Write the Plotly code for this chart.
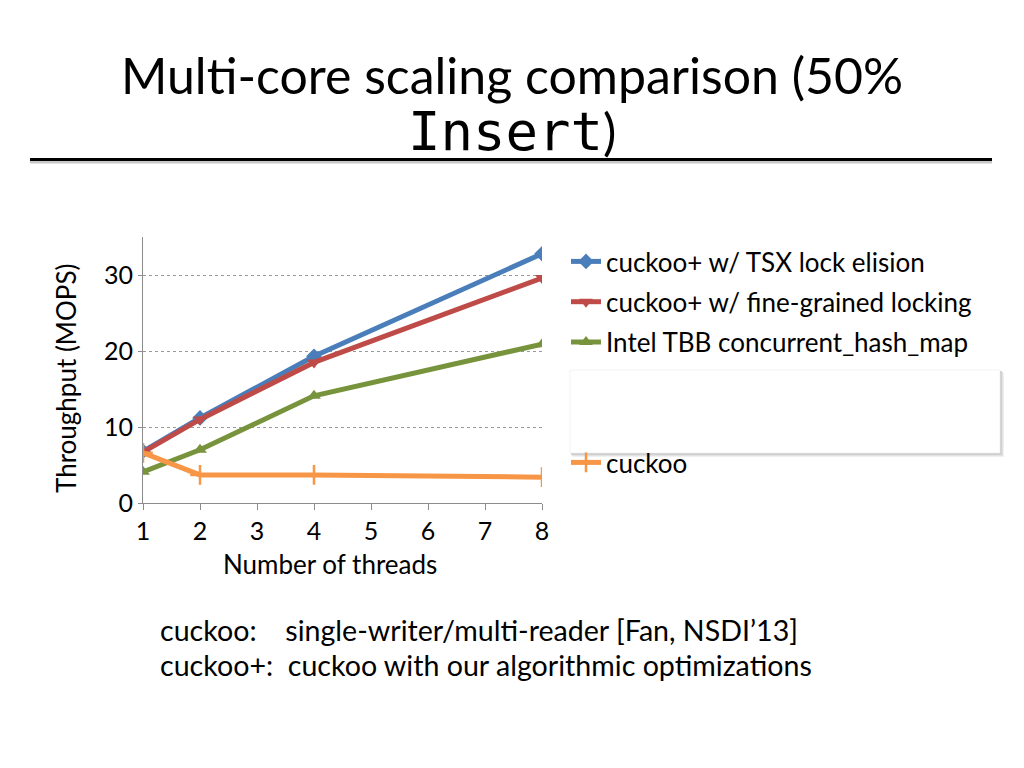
import plotly.graph_objects as go

threads = [1, 2, 4, 8]
tsx = [6.8, 11.2, 19.3, 32.8]
fine = [6.7, 11.0, 18.5, 29.6]
tbb = [4.1, 7.0, 14.1, 20.9]
cuckoo = [6.6, 3.7, 3.7, 3.4]

names = ["cuckoo+ w/ TSX lock elision", "cuckoo+ w/ fine-grained locking",
         "Intel TBB concurrent_hash_map", "cuckoo"]
colors = ["#4A7EBB", "#BE4B48", "#77933C", "#F79646"]
symbols = ["diamond", "triangle-down", "triangle-up", "cross-thin"]
x_ticks = [1, 2, 3, 4, 5, 6, 7, 8]
y_ticks = [0, 10, 20, 30]

W, H = 1024, 768
L, R, T, B = 143, 542, 237, 503  # plot area in pixels


def px(xp):
    return (xp - L) / (R - L)


def py(yp):
    return (B - yp) / (B - T)


FONT = "Lato, 'Open Sans', sans-serif"

fig = go.Figure()
series = [tsx, fine, tbb, cuckoo]
for i, (nm, vals) in enumerate(zip(names, series)):
    mk = dict(symbol=symbols[i], size=12, color=colors[i])
    if symbols[i] == "cross-thin":
        mk = dict(symbol="cross-thin", size=14, color=colors[i],
                  line=dict(color=colors[i], width=2.5))
    fig.add_trace(go.Scatter(
        x=threads, y=vals, name=nm, mode="lines+markers",
        line=dict(color=colors[i], width=5),
        marker=mk,
        legendgroup=str(i),
        legend="legend2" if i == 3 else "legend",
    ))

shapes = []
# title rule with shadow
shapes.append(dict(type="line", xref="paper", yref="paper",
                   x0=px(30), x1=px(992), y0=py(162), y1=py(162),
                   line=dict(color="#c8c8c8", width=3), layer="above"))
shapes.append(dict(type="line", xref="paper", yref="paper",
                   x0=px(30), x1=px(992), y0=py(159.5), y1=py(159.5),
                   line=dict(color="#000000", width=3), layer="above"))
# blank box in the legend with soft shadow
for k, (off, col) in enumerate([(4, "#f0f0f0"), (3, "#e2e2e2"), (2, "#d0d0d0")]):
    shapes.append(dict(type="rect", xref="paper", yref="paper",
                       x0=px(570 + off - 1), x1=px(1000 + off), y0=py(370 + off - 1), y1=py(453 + off),
                       line=dict(width=0), fillcolor=col, layer="above"))
shapes.append(dict(type="rect", xref="paper", yref="paper",
                   x0=px(570), x1=px(1000), y0=py(370), y1=py(453),
                   line=dict(width=0.5, color="#e6e6e6"), fillcolor="#ffffff", layer="above"))

annotations = [
    dict(text="Multi-core scaling comparison (50%", xref="paper", yref="paper",
         x=px(512), y=py(75), showarrow=False, xanchor="center", yanchor="middle",
         font=dict(family=FONT, size=50, color="#000000")),
    dict(text="<span style=\"font-family:'DejaVu Sans Mono', monospace; font-size:54px\">Insert</span>)",
         xref="paper", yref="paper",
         x=px(512), y=py(131), showarrow=False, xanchor="center", yanchor="middle",
         font=dict(family=FONT, size=50, color="#000000")),
    dict(text="cuckoo:\u2003\u00a0single-writer/multi-reader [Fan, NSDI\u201913]", xref="paper", yref="paper",
         x=px(158), y=py(630), showarrow=False, xanchor="left", yanchor="middle",
         font=dict(family=FONT, size=28.6, color="#000000")),
    dict(text="cuckoo+:\u00a0 cuckoo with our algorithmic optimizations", xref="paper", yref="paper",
         x=px(158), y=py(665), showarrow=False, xanchor="left", yanchor="middle",
         font=dict(family=FONT, size=28.6, color="#000000")),
    dict(text="Number of threads", xref="paper", yref="paper",
         x=px(330), y=py(564), showarrow=False, xanchor="center", yanchor="middle",
         font=dict(family=FONT, size=26, color="#000000")),
    dict(text="Throughput (MOPS)", xref="paper", yref="paper", textangle=-90,
         x=px(66), y=py(379), showarrow=False, xanchor="center", yanchor="middle",
         font=dict(family=FONT, size=26, color="#000000")),
]

fig.update_layout(
    width=W, height=H,
    margin=dict(l=L, r=W - R, t=T, b=H - B, pad=0),
    paper_bgcolor="white", plot_bgcolor="white",
    font=dict(family=FONT, size=26, color="#000000"),
    showlegend=True,
    legend=dict(x=px(566), y=py(238), xanchor="left", yanchor="top",
                bgcolor="rgba(0,0,0,0)", font=dict(size=26),
                traceorder="grouped", tracegroupgap=3.5, itemwidth=30),
    legend2=dict(x=px(566), y=py(439), xanchor="left", yanchor="top",
                 bgcolor="rgba(0,0,0,0)", font=dict(size=26), itemwidth=30),
    xaxis=dict(range=[1, 8], tickvals=x_ticks, ticktext=[str(v) for v in x_ticks],
               showgrid=False, zeroline=False, showline=True, linecolor="#8c8c8c", linewidth=1,
               ticks="outside", ticklen=6, tickcolor="#8c8c8c",
               tickfont=dict(size=25)),
    yaxis=dict(range=[0, 35], tickvals=y_ticks, ticktext=[str(v) for v in y_ticks],
               showgrid=True, gridcolor="#9a9a9a", griddash="dot", gridwidth=1,
               zeroline=False, showline=True, linecolor="#8c8c8c", linewidth=1,
               ticks="outside", ticklen=4, tickcolor="#8c8c8c",
               tickfont=dict(size=25)),
    shapes=shapes,
    annotations=annotations,
)

fig.write_html("out.html", config={"displayModeBar": False},
               post_script="document.body.style.margin='0';document.body.style.overflow='hidden';")
